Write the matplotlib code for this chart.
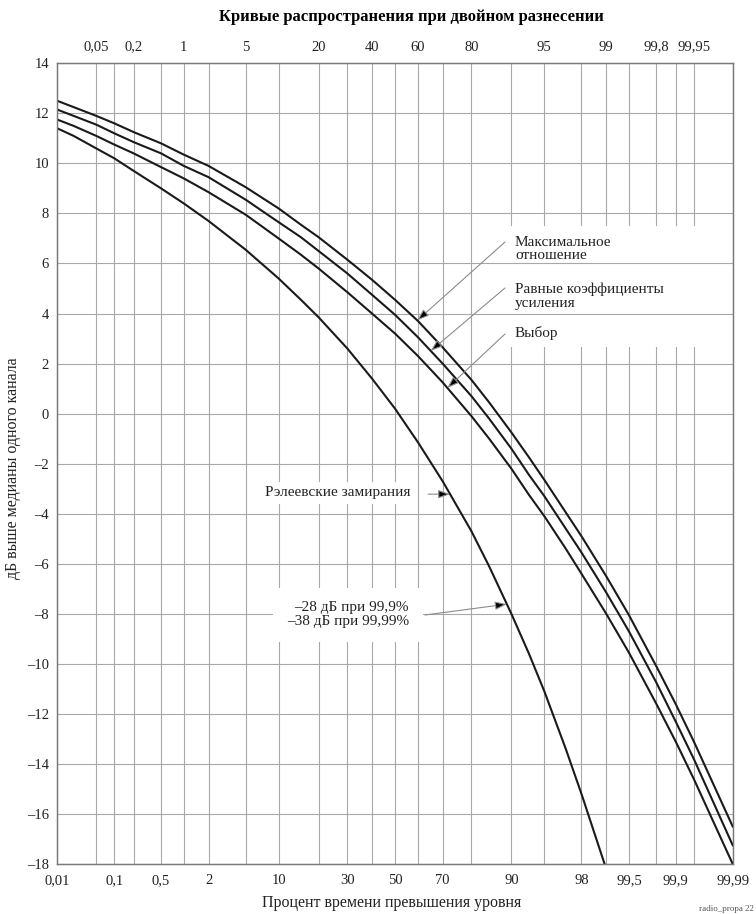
import math

import matplotlib.pyplot as plt
import numpy as np
from matplotlib.patches import Rectangle

# percent of time the level is exceeded (x) and dB above single-channel median (y)
PCT = [0.01, 0.02, 0.05, 0.1, 0.2, 0.5, 1, 2, 5, 10, 15, 20, 30, 40, 50,
       60, 70, 80, 85, 90, 93, 95, 97, 98, 99, 99.5, 99.8, 99.9, 99.95, 99.99]
MAX_RATIO = [12.5, 12.25, 11.9, 11.6, 11.25, 10.8, 10.35, 9.9, 9.05, 8.2, 7.55,
             7.05, 6.15, 5.35, 4.55, 3.7, 2.65, 1.35, 0.45, -0.75, -1.75, -2.65,
             -3.95, -4.9, -6.5, -8.05, -10.1, -11.6, -13.1, -16.5]
EQUAL_GAIN = [12.15, 11.9, 11.55, 11.2, 10.85, 10.4, 9.9, 9.45, 8.55, 7.65,
              7.05, 6.5, 5.6, 4.75, 3.95, 3.05, 2.0, 0.7, -0.2, -1.4, -2.45,
              -3.3, -4.6, -5.55, -7.15, -8.7, -10.75, -12.3, -13.8, -17.25]
SELECTION = [11.75, 11.5, 11.1, 10.75, 10.4, 9.85, 9.4, 8.85, 7.95, 7.0, 6.35,
             5.8, 4.85, 4.0, 3.2, 2.3, 1.25, -0.1, -1.0, -2.2, -3.25, -4.1,
             -5.4, -6.4, -8.0, -9.55, -11.6, -13.1, -14.6, -18.0]
RAYLEIGH_PCT = PCT[:25]
RAYLEIGH = [11.4, 11.1, 10.6, 10.2, 9.7, 9.0, 8.4, 7.7, 6.55, 5.4, 4.55, 3.85,
            2.6, 1.4, 0.2, -1.15, -2.7, -4.7, -6.1, -8.0, -9.6, -11.1, -13.4,
            -15.2, -18.2]

BOTTOM_TICKS = [0.01, 0.1, 0.5, 2, 10, 30, 50, 70, 90, 98, 99.5, 99.9, 99.99]
TOP_TICKS = [0.05, 0.2, 1, 5, 20, 40, 60, 80, 95, 99, 99.8, 99.95]
Y_TICKS = list(range(-18, 15, 2))

W, H = 756, 914
GRID = "#a8a8a8"
INK = "#222222"

_erf = np.vectorize(math.erf, otypes=[float])


def z_to_prob(z):
    z = np.asarray(z, dtype=float)
    return 50.0 * (1.0 + _erf(z / math.sqrt(2.0)))


def prob_to_z(p):
    # normal probability scale, inverted by bisection
    q = np.clip(np.asarray(p, dtype=float), 1e-7, 100 - 1e-7)
    lo = np.full(q.shape, -7.0)
    hi = np.full(q.shape, 7.0)
    for _ in range(55):
        mid = 0.5 * (lo + hi)
        below = z_to_prob(mid) < q
        lo = np.where(below, mid, lo)
        hi = np.where(below, hi, mid)
    return 0.5 * (lo + hi)


def on_curve(p, xs, ys):
    return float(np.interp(prob_to_z(p), prob_to_z(xs), ys))


def fmt(v):
    return f"{v:g}".replace(".", ",")


plt.rcParams["font.family"] = ["Liberation Serif", "DejaVu Serif"]

fig = plt.figure(figsize=(W / 100, H / 100), dpi=100)
ax = fig.add_axes([57.3 / W, 1 - 864 / H, (732.7 - 57.3) / W, (864 - 63.3) / H])
ax.set_xscale("function", functions=(prob_to_z, z_to_prob))
ax.set_xlim(0.01, 99.99)
ax.set_ylim(-18, 14)

for p in sorted(BOTTOM_TICKS + TOP_TICKS):
    ax.axvline(p, color=GRID, lw=0.8, zorder=1)
for v in Y_TICKS:
    ax.axhline(v, color=GRID, lw=0.8, zorder=2)

# blank area behind the diversity labels (vertical grid is cut there)
ax.add_patch(Rectangle((507 / W, 1 - 347 / H), 198 / W, 121 / H,
                       transform=fig.transFigure, facecolor="white",
                       edgecolor="none", zorder=1.5))

for ys in (MAX_RATIO, EQUAL_GAIN, SELECTION):
    ax.plot(PCT, ys, color="#1a1a1a", lw=1.5, zorder=4)
ax.plot(RAYLEIGH_PCT, RAYLEIGH, color="#1a1a1a", lw=1.5, zorder=4)

ax.set_xticks(BOTTOM_TICKS, [fmt(v) for v in BOTTOM_TICKS])
ax.set_yticks(Y_TICKS, [str(v).replace("-", "\u2013") for v in Y_TICKS])
ax.tick_params(length=0, labelsize=10.5, colors=INK, pad=7)
ax.tick_params(axis="y", pad=6)

top = ax.twiny()
top.set_xscale("function", functions=(prob_to_z, z_to_prob))
top.set_xlim(ax.get_xlim())
top.set_xticks(TOP_TICKS, [fmt(v) for v in TOP_TICKS])
top.tick_params(length=0, labelsize=10.5, colors=INK, pad=7)

for a in (ax, top):
    for s in a.spines.values():
        s.set_color("#7a7a7a")
        s.set_linewidth(0.9)

ax.set_ylabel("дБ выше медианы одного канала", fontsize=11.5, color=INK)
ax.yaxis.set_label_coords((21 - 57.3) / 675.4, (864 - 468) / (864 - 63.3))

fig.text(411 / W, 1 - 17 / H, "Кривые распространения при двойном разнесении",
         ha="center", va="center", fontsize=12, fontweight="bold")
fig.text(392 / W, 1 - 903 / H, "Процент времени превышения уровня",
         ha="center", va="center", fontsize=11.5, color=INK)
fig.text(754 / W, 1 - 909 / H, "radio_propa 22", fontsize=6.5, color="#555555",
         ha="right", va="center")

# curve labels with leader arrows
arrow = dict(arrowstyle="-|>,head_length=0.7,head_width=0.25", fc="black",
             ec="#8c8c8c", lw=0.8, shrinkA=0, shrinkB=0)

labels = [
    ("Максимальное\nотношение", 249, 242, 59.7, MAX_RATIO),
    ("Равные коэффициенты\nусиления", 296, 288, 65.3, EQUAL_GAIN),
    ("Выбор", 333, 334, 71.8, SELECTION),
]
for text, ty, sy, tip_p, ys in labels:
    ax.text(515 / W, 1 - ty / H, text, transform=fig.transFigure, fontsize=11,
            ha="left", va="center", color=INK, zorder=3, linespacing=1.05)
    ax.annotate("", xy=(tip_p, on_curve(tip_p, PCT, ys)),
                xytext=(505, H - sy), textcoords="figure pixels",
                arrowprops=arrow, zorder=5)

ax.text(265 / W, 1 - 493 / H, "Рэлеевские замирания", transform=fig.transFigure,
        fontsize=11, ha="left", va="center", color=INK, zorder=3,
        bbox=dict(facecolor="white", edgecolor="none", pad=3))
ray_p = 72.8
ax.annotate("", xy=(ray_p, on_curve(ray_p, RAYLEIGH_PCT, RAYLEIGH)),
            xytext=(-22, 0), textcoords="offset pixels", arrowprops=arrow, zorder=5)

ax.text(348 / W, 1 - 615 / H, "\u201328 дБ при 99,9%\n\u201338 дБ при 99,99%",
        transform=fig.transFigure, fontsize=11, ha="center", va="center",
        multialignment="right", color=INK, linespacing=1.1,
        bbox=dict(facecolor="white", edgecolor="none", pad=10), zorder=3)
low_p = 89.1
ax.annotate("", xy=(low_p, on_curve(low_p, RAYLEIGH_PCT, RAYLEIGH)),
            xytext=(425, H - 615), textcoords="figure pixels",
            arrowprops=arrow, zorder=5)

fig.savefig("out.png", dpi=100)
